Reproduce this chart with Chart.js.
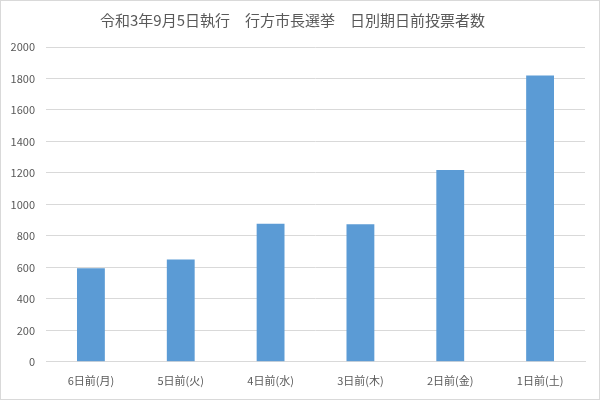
<!DOCTYPE html>
<html>
<head>
<meta charset="utf-8">
<script src="https://cdn.jsdelivr.net/npm/chart.js@4"></script>
<style>
  html, body { margin: 0; padding: 0; background: #fff; }
  #wrap { width: 600px; height: 400px; }
</style>
</head>
<body>
<div id="wrap"><canvas id="myChart" width="600" height="400"></canvas></div>
<script>
const chartTitle = '令和3年9月5日執行　行方市長選挙　日別期日前投票者数';
const categories = ['6日前(月)', '5日前(火)', '4日前(水)', '3日前(木)', '2日前(金)', '1日前(土)'];
const voters = [595, 650, 877, 874, 1218, 1819];
const yTicks = [0, 200, 400, 600, 800, 1000, 1200, 1400, 1600, 1800, 2000];

const fontFamily = '"Noto Sans CJK JP", "Noto Sans", sans-serif';

// white background and thin frame round the chart
const framePlugin = {
    id: 'frame',
    beforeDraw(chart) {
        const ctx = chart.ctx;
        ctx.save();
        ctx.fillStyle = '#ffffff';
        ctx.fillRect(0, 0, chart.width, chart.height);
        ctx.strokeStyle = '#d9d9d9';
        ctx.lineWidth = 1;
        ctx.strokeRect(0.5, 0.5, chart.width - 1, chart.height - 1);
        ctx.restore();
    }
};

const ctx = document.getElementById('myChart').getContext('2d');

new Chart(ctx, {
    type: 'bar',
    data: {
        labels: categories,
        datasets: [{
            data: voters,
            backgroundColor: '#5b9bd5',
            borderWidth: 0,
            barPercentage: 0.62,
            categoryPercentage: 0.5
        }]
    },
    options: {
        responsive: false,
        animation: false,
        layout: { padding: { left: 0, right: 15, top: 0, bottom: 9 } },
        plugins: {
            legend: { display: false },
            tooltip: { enabled: false },
            title: {
                display: true,
                text: chartTitle,
                color: '#595959',
                font: { family: fontFamily, size: 15, weight: 'normal' },
                padding: { top: 11, bottom: 18 }
            }
        },
        scales: {
            x: {
                grid: { display: false },
                border: { color: '#d9d9d9' },
                ticks: {
                    color: '#595959',
                    font: { family: fontFamily, size: 11 },
                    padding: 4,
                    maxRotation: 0
                }
            },
            y: {
                min: 0,
                max: 2000,
                afterBuildTicks(axis) {
                    axis.ticks = yTicks.map(v => ({ value: v }));
                },
                afterFit(axis) {
                    axis.width = 46;
                },
                grid: { color: '#d9d9d9', drawTicks: false },
                border: { display: false },
                ticks: {
                    color: '#595959',
                    font: { family: fontFamily, size: 11 },
                    padding: 11,
                    callback: v => String(v)
                }
            }
        }
    },
    plugins: [framePlugin]
});
</script>
</body>
</html>
